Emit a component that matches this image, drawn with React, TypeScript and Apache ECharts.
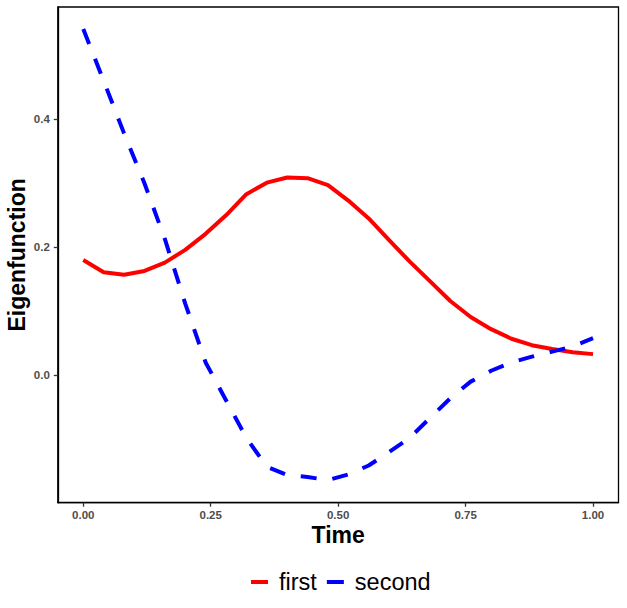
import React, { useEffect, useRef } from "react";
import * as echarts from "echarts";

const times = [0, 0.04, 0.08, 0.12, 0.16, 0.2, 0.24, 0.28, 0.32, 0.36, 0.4, 0.44, 0.48, 0.52, 0.56, 0.6, 0.64, 0.68, 0.72, 0.76, 0.8, 0.84, 0.88, 0.92, 0.96, 1.0];
const firstValues = [0.18, 0.161, 0.157, 0.163, 0.176, 0.196, 0.221, 0.25, 0.283, 0.301, 0.309, 0.308, 0.297, 0.273, 0.245, 0.211, 0.178, 0.147, 0.116, 0.091, 0.072, 0.057, 0.047, 0.041, 0.036, 0.033];
const secondValues = [0.541, 0.46, 0.378, 0.3, 0.213, 0.112, 0.02, -0.039, -0.098, -0.143, -0.156, -0.159, -0.164, -0.155, -0.141, -0.12, -0.098, -0.067, -0.036, -0.01, 0.007, 0.02, 0.029, 0.037, 0.045, 0.058];
const xTicks = [0, 0.25, 0.5, 0.75, 1.0];
const yTicks = [0, 0.2, 0.4];
const seriesNames = ["first", "second"];

export default function App() {
  const ref = useRef<HTMLDivElement>(null);
  useEffect(() => {
    document.body.style.margin = "0";
    const chart = echarts.init(ref.current!, null, { renderer: "svg" });
    const font = "'Liberation Sans', Arial, sans-serif";
    chart.setOption({
      animation: false,
      backgroundColor: "#ffffff",
      grid: {
        left: 57.8,
        right: 8.5,
        top: 7,
        bottom: 105.3,
        show: true,
        borderColor: "#000000",
        borderWidth: 1.3,
        backgroundColor: "transparent",
        containLabel: false,
        outerBoundsMode: "none",
      },
      legend: {
        data: seriesNames,
        left: 246,
        top: 564,
        itemWidth: 17,
        itemHeight: 4,
        itemGap: 10,
        icon: "rect",
        textStyle: {
          fontFamily: font,
          fontSize: 23.5,
          color: "#000000",
          lineHeight: 26,
          padding: [0, 0, 0, 6],
        },
      },
      xAxis: {
        type: "value",
        min: -0.05,
        max: 1.05,
        name: "Time",
        nameLocation: "middle",
        nameGap: 21,
        nameMoveOverlap: false,
        nameTextStyle: { fontFamily: font, fontSize: 23, fontWeight: "bold", color: "#000000" },
        axisLine: { show: true, onZero: false, lineStyle: { color: "#000000", width: 1.3 } },
        splitLine: { show: false },
        axisTick: { show: true, length: 4, lineStyle: { color: "#333333", width: 1.3 }, customValues: xTicks },
        axisLabel: {
          customValues: xTicks,
          formatter: (v: number) => v.toFixed(2),
          fontFamily: font,
          fontSize: 11.5,
          fontWeight: "bold",
          color: "#4D4D4D",
          margin: 6,
        },
      },
      yAxis: {
        type: "value",
        min: -0.1992,
        max: 0.5755,
        name: "Eigenfunction",
        nameLocation: "middle",
        nameGap: 29,
        nameMoveOverlap: false,
        nameTextStyle: { fontFamily: font, fontSize: 23, fontWeight: "bold", color: "#000000" },
        axisLine: { show: true, onZero: false, lineStyle: { color: "#000000", width: 1.3 } },
        splitLine: { show: false },
        axisTick: { show: true, length: 4, lineStyle: { color: "#333333", width: 1.3 }, customValues: yTicks },
        axisLabel: {
          customValues: yTicks,
          formatter: (v: number) => v.toFixed(1),
          fontFamily: font,
          fontSize: 11.5,
          fontWeight: "bold",
          color: "#4D4D4D",
          margin: 8,
        },
      },
      series: [
        {
          name: seriesNames[0],
          type: "line",
          data: times.map((t, i) => [t, firstValues[i]]),
          showSymbol: false,
          symbol: "none",
          color: "#FF0000",
          lineStyle: { color: "#FF0000", width: 4 },
        },
        {
          name: seriesNames[1],
          type: "line",
          data: times.map((t, i) => [t, secondValues[i]]),
          showSymbol: false,
          symbol: "none",
          color: "#0000FF",
          lineStyle: { color: "#0000FF", width: 4, type: [16, 16] },
        },
      ],
    });
    return () => chart.dispose();
  }, []);
  return <div ref={ref} style={{ position: "absolute", left: 0, top: 0, width: 627, height: 608 }} />;
}
